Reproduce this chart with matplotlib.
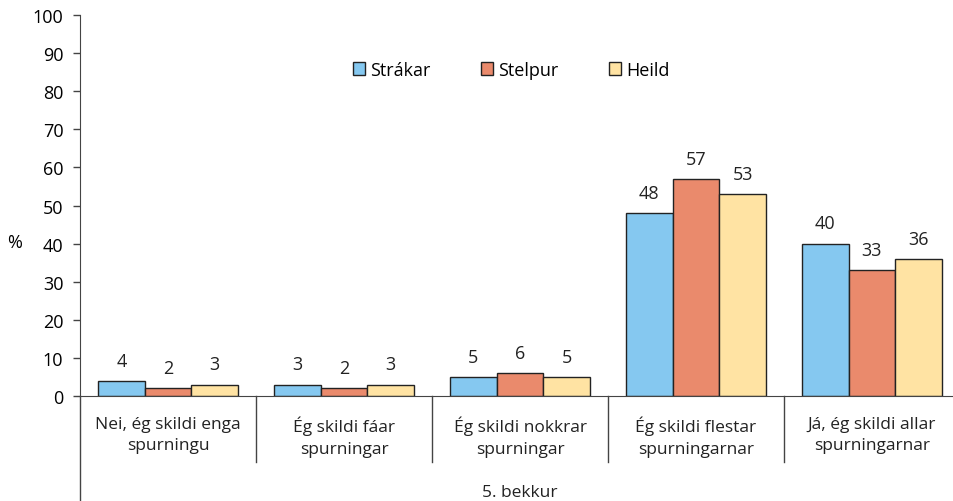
import matplotlib.pyplot as plt
import numpy as np

# gögn
flokkar = ['Nei, ég skildi enga\nspurningu', 'Ég skildi fáar\nspurningar',
           'Ég skildi nokkrar\nspurningar', 'Ég skildi flestar\nspurningarnar',
           'Já, ég skildi allar\nspurningarnar']
strakar = [4, 3, 5, 48, 40]
stelpur = [2, 2, 6, 57, 33]
heild = [3, 3, 5, 53, 36]
heiti = ['Strákar', 'Stelpur', 'Heild']
litir = ['#85C8F0', '#EA8A6C', '#FFE3A3']

plt.rcParams['font.family'] = ['Open Sans', 'DejaVu Sans']
plt.rcParams['font.size'] = 13

W, H = 954, 502
fig = plt.figure(figsize=(W / 100, H / 100), dpi=100)
ax = fig.add_axes([80 / W, (H - 397) / H, 880 / W, 381 / H])

x = np.arange(len(flokkar))
width = 0.265
for i, (vals, lbl, c) in enumerate(zip([strakar, stelpur, heild], heiti, litir)):
    bars = ax.bar(x + (i - 1) * width, vals, width, color=c, edgecolor='#222222',
                  linewidth=1, label=lbl)
    for b in bars:
        ax.annotate(f'{b.get_height():.0f}', (b.get_x() + b.get_width() / 2, b.get_height()),
                    xytext=(0, 8), textcoords='offset points', ha='center', va='bottom',
                    fontsize=13, color='#222222')

ax.set_xlim(-0.5, len(flokkar) - 0.5)
ax.set_ylim(0, 100)
ax.set_yticks(range(0, 101, 10))
ax.tick_params(axis='y', length=5, width=1, color='#444444', labelsize=13, pad=7)
ax.set_xticks([])
for s in ['top', 'right']:
    ax.spines[s].set_visible(False)
ax.spines['left'].set_color('#444444')
ax.spines['bottom'].set_color('#444444')

# flokkaheiti og skil undir ásnum
for k in range(len(flokkar)):
    ax.text(k, -5.2, flokkar[k], ha='center', va='top', fontsize=12.5,
            linespacing=1.45, color='#222222')
for k in range(1, len(flokkar)):
    ax.plot([k - 0.5, k - 0.5], [0, -17.3], color='#444444', lw=1, clip_on=False)
ax.plot([-0.5, -0.5], [0, -28], color='#444444', lw=1, clip_on=False)
ax.text(2, -25.2, '5. bekkur', ha='center', va='center', fontsize=12.5, color='#222222')

fig.text(15 / W, (H - 243) / H, '%', ha='center', va='center', fontsize=13)

ax.legend(loc='center', bbox_to_anchor=(511 / W, (H - 71) / H),
          bbox_transform=fig.transFigure, ncol=3, frameon=False,
          handlelength=0.7, handleheight=0.7, handletextpad=0.25,
          columnspacing=2.8, fontsize=13)

fig.savefig('out.png', dpi=100)
